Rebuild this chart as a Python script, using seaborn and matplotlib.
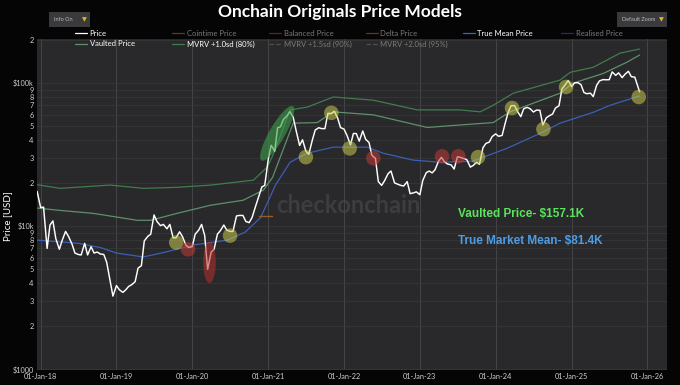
import numpy as np
import pandas as pd
import matplotlib
matplotlib.use('Agg')
import matplotlib.pyplot as plt
import matplotlib.dates as mdates
from matplotlib.lines import Line2D
from matplotlib.patches import FancyBboxPatch
from matplotlib.path import Path
from matplotlib.transforms import Affine2D
from matplotlib.ticker import FixedLocator, FixedFormatter, NullLocator
import seaborn as sns

# BTC price, 1st and 15th of each month (Dec-17 .. Nov-25) + last print
price_2017 = [17500]
price_2018 = [13500, 13600, 7000, 10200, 10900, 8200, 6900, 8000, 9200, 8500, 7500, 6500,
              6350, 6300, 7600, 6300, 7200, 6500, 6600, 6400, 6350, 5600, 4200, 3250]
price_2019 = [3850, 3600, 3450, 3600, 3800, 3900, 4100, 5100, 5300, 7900, 8500, 8800,
              12000, 10800, 10100, 10300, 9600, 10300, 8300, 8300, 9150, 8450, 7400, 7100]
price_2020 = [7200, 8800, 9400, 10300, 8600, 5000, 6600, 6900, 8800, 9300, 10200, 9400,
              9200, 9200, 11800, 11900, 11900, 10800, 10600, 11500, 13800, 15900, 18800, 19300]
price_2021 = [29400, 36800, 33500, 48700, 49600, 55800, 59000, 63300, 57800, 46700, 36700, 40200,
              33500, 31800, 39900, 47000, 48800, 48100, 48100, 61500, 61300, 63600, 57000, 48900]
price_2022 = [47700, 43100, 37000, 44500, 44400, 39300, 46300, 40500, 38500, 31300, 29800, 20500,
              19300, 20800, 23300, 24300, 20100, 19700, 19300, 19100, 20500, 16900, 17100, 17400]
price_2023 = [16600, 20900, 23700, 24300, 23600, 24800, 28500, 30300, 28000, 27200, 26800, 25100,
              30600, 30300, 29700, 29200, 25900, 26600, 28000, 27100, 35400, 37900, 38700, 42300]
price_2024 = [44200, 42500, 43100, 51900, 62400, 69500, 69700, 63400, 58300, 66200, 67700, 66200,
              62800, 64800, 64600, 51000, 57300, 59100, 60800, 67000, 69500, 91000, 97400, 104300]
price_2025 = [94400, 100500, 100600, 97500, 86000, 84300, 85100, 80500, 96500, 103700, 105800, 105500,
              105700, 119800, 113300, 118000, 109200, 115400, 121000, 111000, 110000, 95500]
price_last_date = '2025-11-24'
price_last = 87000

# MVRV +1.0sd band
mvrv1_dates = ['2017-12-15', '2018-04-05', '2018-12-01', '2019-05-10', '2019-10-20', '2020-04-01',
               '2020-10-22', '2020-12-28', '2021-01-26', '2021-04-16', '2021-07-08', '2021-11-10',
               '2022-05-22', '2022-12-20', '2023-07-13', '2023-10-18', '2023-12-20', '2024-03-26',
               '2024-11-06', '2024-12-25', '2025-04-15', '2025-08-22', '2025-11-24']
mvrv1 = [19500, 18400, 19400, 18400, 18700, 19400, 21000, 26000, 32000, 65000, 68000, 80000,
         76000, 65000, 65000, 63000, 70000, 85000, 105000, 119000, 129000, 162000, 173000]

# Vaulted price
vaulted_dates = ['2017-12-15', '2018-04-05', '2018-09-12', '2019-04-12', '2019-06-14', '2019-10-19',
                 '2020-03-27', '2020-09-02', '2020-12-09', '2021-01-22', '2021-05-01', '2021-08-25',
                 '2021-11-10', '2022-05-22', '2023-02-06', '2023-07-13', '2023-12-20', '2024-03-10',
                 '2024-11-06', '2025-01-08', '2025-06-03', '2025-09-24', '2025-11-24']
vaulted = [13400, 12900, 12300, 11000, 11000, 12300, 14000, 15200, 17900, 22000, 52500, 53000,
           63000, 60000, 49000, 51000, 53000, 63000, 85000, 100000, 117000, 140000, 157100]

# True market mean price
tmm_dates = ['2017-12-15', '2018-07-01', '2018-10-15', '2019-01-01', '2019-05-10', '2019-08-25',
             '2020-01-08', '2020-06-18', '2020-09-12', '2020-11-25', '2021-02-05', '2021-04-16',
             '2021-07-08', '2021-11-10', '2022-04-22', '2022-07-08', '2022-11-28', '2023-04-08',
             '2023-09-12', '2024-02-24', '2024-08-04', '2024-11-06', '2025-04-15', '2025-07-05',
             '2025-11-24']
tmm = [8000, 7600, 7100, 6500, 6100, 6600, 7400, 8000, 9100, 11500, 19400, 28000,
       32400, 35700, 35700, 32400, 29000, 28000, 28500, 35000, 44700, 52500, 62500, 70000,
       81400]

# short delta price stub
delta_dates = ['2020-11-18', '2021-01-18']
delta = [11800, 11800]

# highlighted zones
yellow_dates = ['2019-10-16', '2020-07-01', '2021-07-01', '2021-11-01', '2022-01-28',
                '2023-10-08', '2024-03-20', '2024-08-18', '2024-12-05', '2025-11-20']
yellow_vals = [7700, 8600, 30400, 62000, 35000, 30400, 67000, 47700, 94000, 80000]
red_dates = ['2019-12-12', '2022-05-22', '2023-04-18', '2023-07-05']
red_vals = [6900, 29900, 30800, 30800]
crash_date, crash_val = '2020-03-24', 5600
rally_date, rally_val = '2021-02-13', 44600

W, H = 680, 385


def fx(x):
    return x / W


def fy(y):
    return 1 - y / H


sns.set_style('dark')
plt.rcParams['font.family'] = ['Lato', 'DejaVu Sans']

fig = plt.figure(figsize=(6.8, 3.85), dpi=100, facecolor='#050505')
ax = fig.add_axes([fx(36.5), fy(370), fx(667 - 36.5), (370 - 38.5) / H])
ax.set_facecolor('#29292b')

ax.text(0.495, 0.495, 'checkonchain', transform=ax.transAxes, ha='center', va='center',
        fontsize=17, fontweight='bold', color='#3d3d3f', zorder=0)

price_dates = pd.date_range('2017-12-15', '2025-11-15', freq='SMS')
price_dates = price_dates.append(pd.DatetimeIndex([price_last_date]))
price = (price_2017 + price_2018 + price_2019 + price_2020 + price_2021 + price_2022
         + price_2023 + price_2024 + price_2025 + [price_last])

sns.lineplot(x=pd.to_datetime(mvrv1_dates), y=mvrv1, ax=ax, color='#3f7d4d', lw=0.9, zorder=2)
sns.lineplot(x=pd.to_datetime(vaulted_dates), y=vaulted, ax=ax, color='#5f8f6b', lw=0.9, zorder=2)
sns.lineplot(x=pd.to_datetime(tmm_dates), y=tmm, ax=ax, color='#3b5fb5', lw=0.9, zorder=2)
sns.lineplot(x=pd.to_datetime(delta_dates), y=delta, ax=ax, color='#9a5a2a', lw=1.0, zorder=2)
sns.lineplot(x=price_dates, y=price, ax=ax, color='white', lw=1.05, zorder=3)

sns.scatterplot(x=pd.to_datetime(yellow_dates), y=yellow_vals, ax=ax, s=110, color='#c9c94e',
                alpha=0.55, edgecolor='none', zorder=4)
sns.scatterplot(x=pd.to_datetime(red_dates), y=red_vals, ax=ax, s=110, color='#c23a35',
                alpha=0.55, edgecolor='none', zorder=4)

circ = Path.unit_circle()
tall = circ.transformed(Affine2D().scale(0.3, 1.0))
slant = circ.transformed(Affine2D().scale(1.0, 0.25).rotate_deg(60))
ax.scatter(pd.to_datetime([crash_date]), [crash_val], marker=tall, s=900, color='#b8302c',
           alpha=0.55, edgecolors='none', zorder=4)
ax.scatter(pd.to_datetime([rally_date]), [rally_val], marker=slant, s=1650, color='#3d9e4a',
           alpha=0.6, edgecolors='none', zorder=4)

ax.set_yscale('log')
ax.set_ylim(990, 205000)
ax.set_xlim(pd.Timestamp('2017-12-12'), pd.Timestamp('2026-04-05'))

yt = [1000 * k for k in range(1, 10)] + [10000 * k for k in range(1, 10)] + [100000, 200000]
yl = ['$1000'] + [str(k) for k in range(2, 10)] + ['$10k'] + [str(k) for k in range(2, 10)] + ['$100k', '2']
ax.yaxis.set_major_locator(FixedLocator(yt))
ax.yaxis.set_major_formatter(FixedFormatter(yl))
ax.yaxis.set_minor_locator(NullLocator())
ax.xaxis.set_major_locator(mdates.YearLocator())
ax.xaxis.set_major_formatter(mdates.DateFormatter('%d-%b-%y'))
ax.tick_params(axis='both', length=0, colors='#cfcfcf', labelsize=5.3, pad=2)
ax.tick_params(axis='x', pad=2.5)
ax.grid(axis='y', color='#3a3a3c', lw=0.5)
ax.grid(axis='x', color='#4a4a4c', lw=0.6)
ax.set_axisbelow(True)
for sp in ax.spines.values():
    sp.set_visible(False)
ax.set_xlabel('')
ax.set_ylabel('')

fig.text(fx(8), fy(216), 'Price [USD]', rotation=90, ha='center', va='center',
         color='white', fontsize=7)
fig.text(0.5, fy(12), 'Onchain Originals Price Models', ha='center', va='center',
         color='white', fontsize=12.5, fontweight='bold')

# buttons
for x0, x1, label in [(49, 90, 'Info On'), (617, 667, 'Default Zoom')]:
    fig.patches.append(FancyBboxPatch((fx(x0), fy(27)), fx(x1 - x0), (27 - 12) / H,
                                      boxstyle='square,pad=0', transform=fig.transFigure,
                                      facecolor='#3a3a3c', edgecolor='none'))
    fig.text(fx(x0 + 5), fy(19.5), label, ha='left', va='center', color='#bbbbbb', fontsize=4)
    fig.text(fx(x1 - 6), fy(19.5), '▼', ha='center', va='center', color='#e0b820',
             fontsize=4.5, family='DejaVu Sans')

# legend, two rows like the web chart
legend_items = [
    (75, 33, 'Price', 'white', 'white', '-'),
    (172, 33, 'Cointime Price', '#5c3b22', '#7a7a7a', '-'),
    (269, 33, 'Balanced Price', '#5e2233', '#7a7a7a', '-'),
    (366, 33, 'Delta Price', '#5e3a1e', '#7a7a7a', '-'),
    (463, 33, 'True Mean Price', '#2f66d0', 'white', '-'),
    (561, 33, 'Realised Price', '#262a66', '#7a7a7a', '-'),
    (75, 44, 'Vaulted Price', '#5f8f6b', 'white', '-'),
    (172, 44, 'MVRV +1.0sd (80%)', '#3f7d4d', 'white', '-'),
    (269, 44, 'MVRV +1.5sd (90%)', '#505050', '#7a7a7a', '--'),
    (366, 44, 'MVRV +2.0sd (95%)', '#505050', '#7a7a7a', '--'),
]
for x0, y0, label, lc, tc, ls in legend_items:
    fig.add_artist(Line2D([fx(x0), fx(x0 + 12)], [fy(y0), fy(y0)], transform=fig.transFigure,
                          color=lc, lw=0.9, ls=ls))
    fig.text(fx(x0 + 14.5), fy(y0), label, ha='left', va='center', color=tc, fontsize=5.5)

fig.text(fx(458), fy(214), 'Vaulted Price- $157.1K', ha='left', va='center',
         color='#5be35b', fontsize=8.5, fontweight='bold', family='Liberation Sans')
fig.text(fx(458), fy(241), 'True Market Mean- $81.4K', ha='left', va='center',
         color='#4d9de6', fontsize=8.5, fontweight='bold', family='Liberation Sans')

fig.savefig('out.png', dpi=100, facecolor=fig.get_facecolor())
